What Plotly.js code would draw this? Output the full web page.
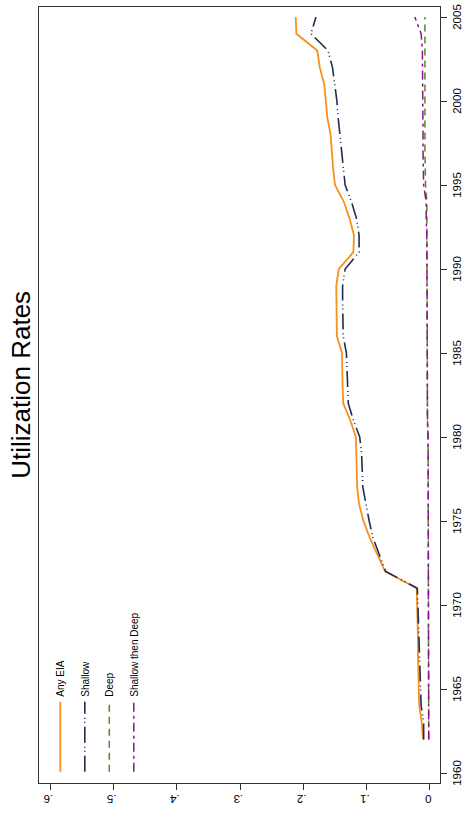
<!DOCTYPE html>
<html>
<head>
<meta charset="utf-8">
<script src="https://cdn.plot.ly/plotly-3.0.1.min.js"></script>
<style>
html,body{margin:0;padding:0;background:#fff;overflow:hidden;width:474px;height:824px;}
#wrap{position:absolute;left:0;top:0;width:824px;height:474px;transform-origin:0 0;transform:translate(0px,824px) rotate(-90deg);}
#chart{width:824px;height:474px;}
</style>
</head>
<body>
<div id="wrap"><div id="chart"></div></div>
<script>
const years = [1962,1963,1964,1965,1966,1967,1968,1969,1970,1971,1972,1973,1974,1975,1976,1977,1978,1979,1980,1981,1982,1983,1984,1985,1986,1987,1988,1989,1990,1991,1992,1993,1994,1995,1996,1997,1998,1999,2000,2001,2002,2003,2004,2005];
const anyEIA = [0.011,0.013,0.017,0.018,0.018,0.019,0.019,0.020,0.021,0.021,0.071,0.083,0.095,0.105,0.112,0.115,0.116,0.117,0.117,0.126,0.137,0.138,0.138,0.139,0.147,0.147,0.148,0.148,0.144,0.121,0.120,0.127,0.136,0.150,0.153,0.155,0.157,0.162,0.164,0.167,0.174,0.178,0.211,0.212];
const shallow = [0.010,0.010,0.014,0.015,0.015,0.016,0.017,0.018,0.019,0.020,0.070,0.080,0.090,0.096,0.101,0.106,0.107,0.108,0.111,0.121,0.129,0.130,0.131,0.132,0.137,0.138,0.138,0.138,0.134,0.112,0.112,0.116,0.124,0.134,0.137,0.139,0.142,0.145,0.147,0.151,0.154,0.161,0.188,0.180];
const deep = [0.002,0.002,0.002,0.002,0.002,0.002,0.002,0.002,0.002,0.002,0.003,0.003,0.003,0.003,0.003,0.003,0.003,0.003,0.003,0.004,0.004,0.004,0.004,0.004,0.004,0.004,0.004,0.004,0.004,0.005,0.005,0.005,0.005,0.007,0.008,0.008,0.008,0.008,0.008,0.008,0.008,0.008,0.008,0.008];
const shallowThenDeep = [0.002,0.002,0.002,0.002,0.002,0.002,0.002,0.002,0.002,0.002,0.003,0.003,0.003,0.003,0.003,0.003,0.003,0.003,0.003,0.004,0.004,0.004,0.004,0.004,0.004,0.004,0.004,0.004,0.004,0.005,0.005,0.006,0.006,0.010,0.011,0.011,0.011,0.011,0.011,0.011,0.011,0.012,0.014,0.024];
const seriesNames = ["Any EIA","Shallow","Deep","Shallow then Deep"];
const yearTicks = [1960,1965,1970,1975,1980,1985,1990,1995,2000,2005];
const valueTicks = [0,0.1,0.2,0.3,0.4,0.5,0.6];
const valueTickText = ["0",".1",".2",".3",".4",".5",".6"];

const FONT = "Liberation Sans, Arial, Helvetica, sans-serif";
const traces = [
  {x: years, y: anyEIA, name: seriesNames[0], mode: "lines", line: {color: "#f7901e", width: 1.8}, legendgroup: "a"},
  {x: years, y: shallow, name: seriesNames[1], mode: "lines", line: {color: "#1f2d52", width: 1.6, dash: "16px,4px,1px,3px,1px,4px"}, legendgroup: "b"},
  {x: years, y: deep, name: seriesNames[2], mode: "lines", line: {color: "#5b7f2f", width: 1.5, dash: "7px,5px"}, legendgroup: "c"},
  {x: years, y: shallowThenDeep, name: seriesNames[3], mode: "lines", line: {color: "#8b118b", width: 1.5, dash: "9px,4px,3px,4px"}, legendgroup: "d"}
];
const layout = {
  width: 824, height: 474,
  margin: {l: 41, r: 7, t: 39, b: 34, pad: 0},
  paper_bgcolor: "#ffffff", plot_bgcolor: "#ffffff",
  font: {family: FONT, color: "#000"},
  title: {text: "Utilization Rates", font: {family: FONT, size: 26, color: "#000"}, x: 0.533, xanchor: "center", xref: "container", y: 0.955, yanchor: "middle"},
  showlegend: true,
  legend: {x: 0.008, y: 0.983, xanchor: "left", yanchor: "top", orientation: "v", bgcolor: "rgba(0,0,0,0)", font: {family: FONT, size: 10, color: "#000"}, itemwidth: 70, tracegroupgap: 5.5, traceorder: "grouped"},
  xaxis: {range: [1959.405, 2005.595], tickmode: "array", tickvals: yearTicks, ticks: "outside", ticklen: 6, tickwidth: 1, tickcolor: "#333", showline: true, linecolor: "#333", linewidth: 1, mirror: true, showgrid: false, zeroline: false, tickfont: {family: FONT, size: 11.5, color: "#000"}},
  yaxis: {range: [-0.0158, 0.6174], tickmode: "array", tickvals: valueTicks, ticktext: valueTickText, tickangle: -90, ticks: "outside", ticklen: 6, tickwidth: 1, tickcolor: "#333", showline: true, linecolor: "#333", linewidth: 1, mirror: true, showgrid: false, zeroline: false, tickfont: {family: FONT, size: 11.5, color: "#000"}}
};
Plotly.newPlot("chart", traces, layout, {displayModeBar: false, staticPlot: true});
</script>
</body>
</html>
